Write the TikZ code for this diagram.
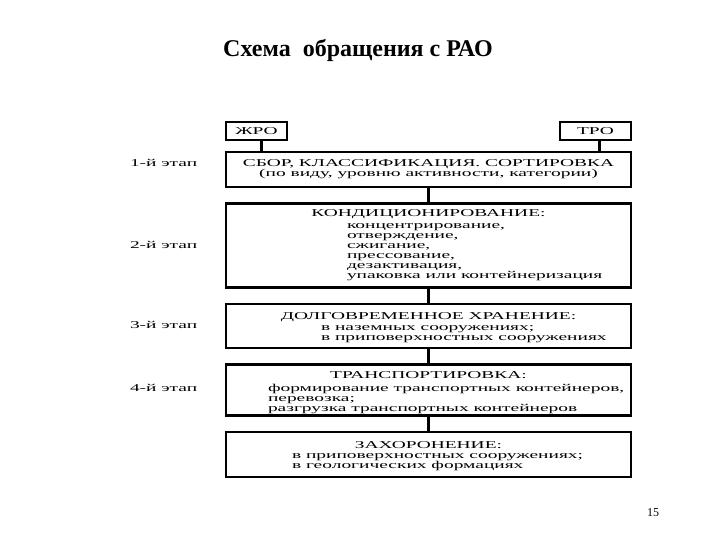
\documentclass[tikz,border=0pt]{standalone}
\usepackage{fontspec}
\setmainfont{Liberation Serif}
\newfontfamily\widefont{Liberation Serif}[FakeStretch=1.85]
\usetikzlibrary{positioning}

\begin{document}
\begin{tikzpicture}[
  x=1pt,y=-1pt,
  node distance=16.5pt,
  every node/.style={inner sep=0pt,outer sep=0pt},
  schemetext/.style={font=\widefont\fontsize{10.5}{10}\selectfont},
  stagebox/.style={draw,line width=2.2pt,minimum width=405pt,schemetext,align=center},
  wastebox/.style={draw,line width=2.2pt,minimum height=18pt,schemetext},
  headtext/.style={schemetext},
  listtext/.style={schemetext,align=left,anchor=north west},
  stagelabel/.style={schemetext,anchor=west},
  link/.style={line width=2.2pt}
]
\useasboundingbox[fill=white] (0,0) rectangle (720,540);
\node[font=\bfseries\fontsize{24}{28}\selectfont] (title) at (358,50) {Схема\ \ обращения с РАО};

\node[wastebox,minimum width=61pt] (lrw) at (256.5,131) {ЖРО};
\node[wastebox,minimum width=71pt] (srw) at (595.5,131) {ТРО};

\node[stagebox,minimum height=35pt] (collect) at (428.5,169.5) {СБОР, КЛАССИФИКАЦИЯ. СОРТИРОВКА\\(по виду, уровню активности, категории)};
\node[stagebox,minimum height=84pt,below=of collect] (cond) {};
\node[stagebox,minimum height=44pt,below=of cond] (store) {};
\node[stagebox,minimum height=51pt,below=of store] (transp) {};
\node[stagebox,minimum height=45pt,below=of transp] (bury) {};

\node[headtext,below=6pt of cond.north] (condhead) {КОНДИЦИОНИРОВАНИЕ:};
\node[listtext] (condlist) at (347,224) {концентрирование,\\отверждение,\\сжигание,\\прессование,\\дезактивация,\\упаковка или контейнеризация};
\node[headtext,below=8.5pt of store.north] (storehead) {ДОЛГОВРЕМЕННОЕ ХРАНЕНИЕ:};
\node[listtext] (storelist) at (321,326) {в наземных сооружениях;\\в приповерхностных сооружениях};
\node[headtext,below=7pt of transp.north] (transphead) {ТРАНСПОРТИРОВКА:};
\node[listtext] (transplist) at (268,384) {формирование транспортных контейнеров,\\перевозка;\\разгрузка транспортных контейнеров};
\node[headtext,below=9.5pt of bury.north] (buryhead) {ЗАХОРОНЕНИЕ:};
\node[listtext] (burylist) at (292,454) {в приповерхностных сооружениях;\\в геологических формациях};

\node[stagelabel] (stage1) at (130,163) {1-й этап};
\node[stagelabel] (stage2) at (130,245) {2-й этап};
\node[stagelabel] (stage3) at (130,325) {3-й этап};
\node[stagelabel] (stage4) at (130,388) {4-й этап};

\draw[link] ([xshift=5pt]lrw.south) -- ([xshift=5pt]lrw.south |- collect.north);
\draw[link] ([xshift=4pt]srw.south) -- ([xshift=4pt]srw.south |- collect.north);
\foreach \a/\b in {collect/cond,cond/store,store/transp,transp/bury}
  \draw[link] (\a) -- (\b);

\node[font=\fontsize{12}{14}\selectfont] (pagenum) at (653,513) {15};
\end{tikzpicture}
\end{document}
